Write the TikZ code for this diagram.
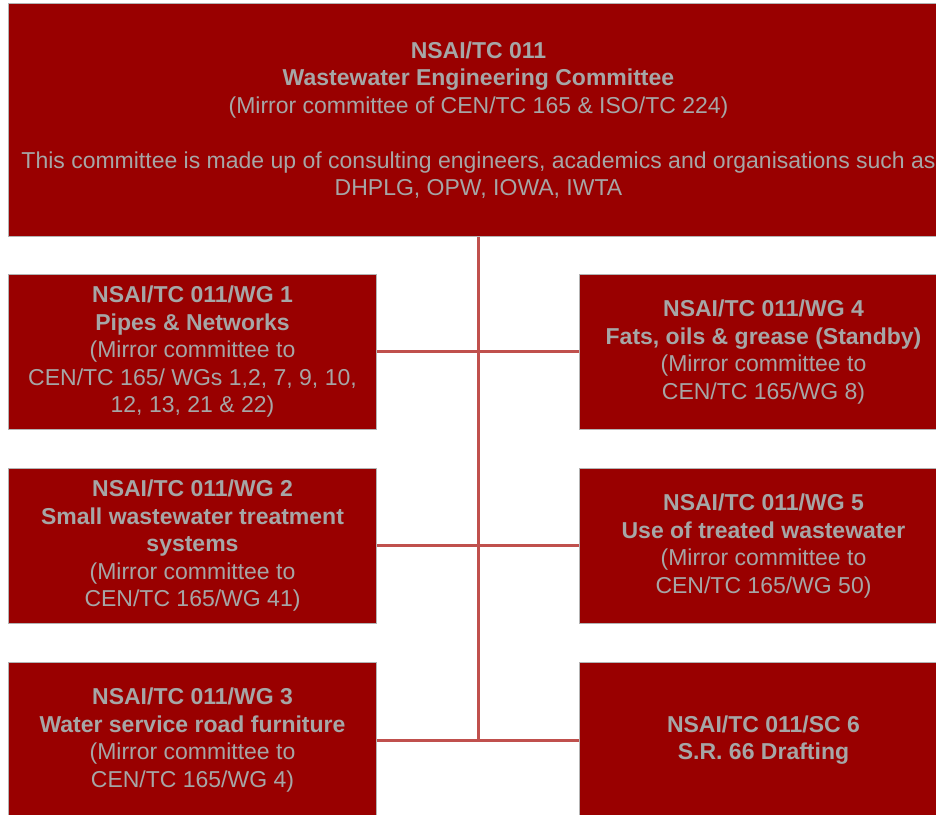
\documentclass[tikz,border=0pt]{standalone}
\usepackage{fontspec}
\setmainfont{Liberation Sans}

\definecolor{boxred}{HTML}{990000}
\definecolor{boxtext}{HTML}{A6A6A6}
\definecolor{boxline}{HTML}{B3B3B3}
\definecolor{linkred}{HTML}{C0504D}

\begin{document}
\begin{tikzpicture}[x=1pt,y=1pt,
  wgbox/.style={draw=boxline, line width=1pt, fill=boxred, text=boxtext,
    align=center, anchor=north west, inner sep=0pt,
    minimum width=368pt, minimum height=155pt,
    font=\fontsize{23}{27.5}\selectfont},
  link/.style={draw=linkred, line width=3pt}]

  \useasboundingbox (0,0) rectangle (936,814);
  \clip (0,0) rectangle (936,814);

%%%%%%%%%%%%%%%%%%%%%%%%%%%%%%%%%%%%%%%%%%
  % Main committee
  \node[wgbox, minimum width=940pt, minimum height=233pt] (tc) at (8,811)
    {\textbf{NSAI/TC 011}\\
     \textbf{Wastewater Engineering Committee}\\
     (Mirror committee of CEN/TC 165 \& ISO/TC 224)\\[27.5pt]
     This committee is made up of consulting engineers, academics and organisations such as\\
     DHPLG, OPW, IOWA, IWTA};

%%%%%%%%%%%%%%%%%%%%%%%%%%%%%%%%%%%%%%%%%%
  % Left column
  \node[wgbox] (wg1) at (8,540)
    {\textbf{NSAI/TC 011/WG 1}\\
     \textbf{Pipes \& Networks}\\
     (Mirror committee to\\
     CEN/TC 165/ WGs 1,2, 7, 9, 10,\\
     12, 13, 21 \& 22)};
  \node[wgbox] (wg2) at (8,346)
    {\textbf{NSAI/TC 011/WG 2}\\
     \textbf{Small wastewater treatment}\\
     \textbf{systems}\\
     (Mirror committee to\\
     CEN/TC 165/WG 41)};
  \node[wgbox] (wg3) at (8,152)
    {\textbf{NSAI/TC 011/WG 3}\\
     \textbf{Water service road furniture}\\
     (Mirror committee to\\
     CEN/TC 165/WG 4)};

%%%%%%%%%%%%%%%%%%%%%%%%%%%%%%%%%%%%%%%%%%
  % Right column
  \node[wgbox] (wg4) at (579,540)
    {\textbf{NSAI/TC 011/WG 4}\\
     \textbf{Fats, oils \& grease (Standby)}\\
     (Mirror committee to\\
     CEN/TC 165/WG 8)};
  \node[wgbox] (wg5) at (579,346)
    {\textbf{NSAI/TC 011/WG 5}\\
     \textbf{Use of treated wastewater}\\
     (Mirror committee to\\
     CEN/TC 165/WG 50)};
  \node[wgbox] (sc6) at (579,152)
    {\textbf{NSAI/TC 011/SC 6}\\
     \textbf{S.R. 66 Drafting}};

%%%%%%%%%%%%%%%%%%%%%%%%%%%%%%%%%%%%%%%%%%
  % Connectors
  \coordinate (trunk) at (tc.south |- wg3.east);
  \draw[link] (tc.south) -- (trunk);
  \draw[link] (wg1.east) -- (wg4.west);
  \draw[link] (wg2.east) -- (wg5.west);
  \draw[link] (wg3.east) -- (sc6.west);

\end{tikzpicture}
\end{document}
